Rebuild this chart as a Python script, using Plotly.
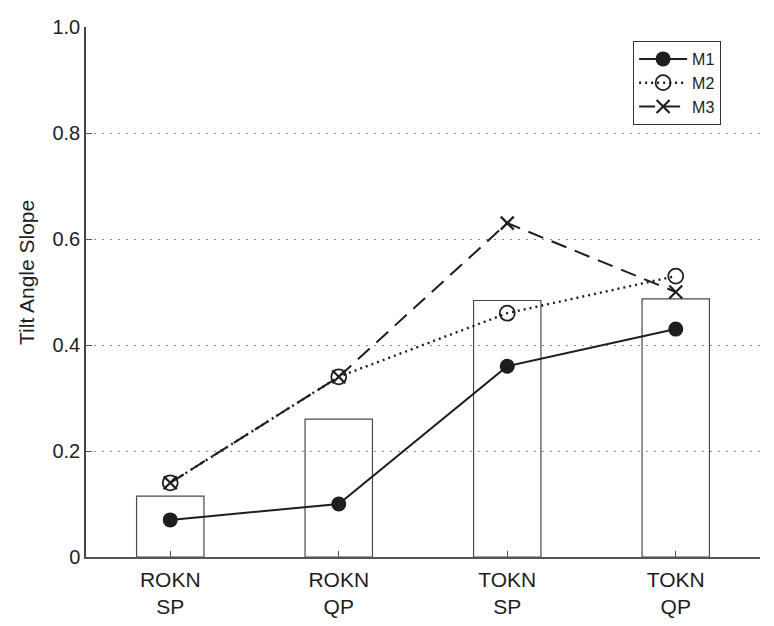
import plotly.graph_objects as go

categories = ["ROKN<br>SP", "ROKN<br>QP", "TOKN<br>SP", "TOKN<br>QP"]
bar_values = [0.115, 0.26, 0.484, 0.487]
m1 = [0.07, 0.10, 0.36, 0.43]
m2 = [0.14, 0.34, 0.46, 0.53]
m3 = [0.14, 0.34, 0.63, 0.50]
y_tickvals = [0, 0.2, 0.4, 0.6, 0.8, 1.0]
y_ticktext = ["0", "0.2", "0.4", "0.6", "0.8", "1.0"]
y_title = "Tilt Angle Slope"

xs = list(range(len(categories)))
ink = "#1e1e1e"
font = "Liberation Sans, Arial, sans-serif"

fig = go.Figure()
fig.add_trace(go.Bar(x=xs, y=bar_values, width=0.4, marker=dict(color="rgba(0,0,0,0)",
                     line=dict(color="#4a4a4a", width=1.2)), showlegend=False, hoverinfo="skip"))
fig.add_trace(go.Scatter(x=xs, y=m1, name="M1", mode="lines+markers",
                         line=dict(color=ink, width=2),
                         marker=dict(symbol="circle", size=15, color=ink)))
fig.add_trace(go.Scatter(x=xs, y=m2, name="M2", mode="lines+markers",
                         line=dict(color=ink, width=2.4, dash="2px,4px"),
                         marker=dict(symbol="circle-open", size=15, color=ink, line=dict(width=1.8))))
fig.add_trace(go.Scatter(x=xs, y=m3, name="M3", mode="lines+markers",
                         line=dict(color=ink, width=2, dash="16px,9px"),
                         marker=dict(symbol="x-thin", size=13, color=ink, line=dict(width=2.2, color=ink))))

# y-axis title placed like the reference (centred a bit above the plot middle)
fig.add_annotation(text=y_title, xref="paper", yref="paper", x=-0.0875, y=0.536,
                   xanchor="center", yanchor="middle", textangle=-90, showarrow=False,
                   font=dict(size=21, family=font, color=ink))

# page body has an 8px margin: compensate so the plot lands where the reference has it
fig.update_layout(
    width=766, height=618,
    margin=dict(l=78, r=14, t=19, b=69, autoexpand=False),
    plot_bgcolor="white", paper_bgcolor="white",
    font=dict(family=font, size=20, color=ink),
    barmode="overlay",
    legend=dict(x=0.942, y=0.974, xanchor="right", yanchor="top",
                bordercolor="#333333", borderwidth=1.2, bgcolor="white",
                font=dict(size=16, family=font), tracegroupgap=0,
                itemwidth=48, entrywidth=46),
    xaxis=dict(tickvals=xs, ticktext=categories, range=[-0.5, 3.5],
               showline=True, linecolor="#555555", linewidth=1.5,
               ticks="inside", ticklen=6, tickcolor="#555555",
               showgrid=False, zeroline=False, tickfont=dict(size=21),
               ticklabelstandoff=3, automargin=False),
    yaxis=dict(range=[0, 1.0], tickvals=y_tickvals, ticktext=y_ticktext,
               showline=True, linecolor="#444444", linewidth=1.5,
               ticks="inside", ticklen=6, tickcolor="#555555",
               showgrid=True, gridcolor="#8a8a8a", griddash="2px,6px", gridwidth=1,
               zeroline=False, tickfont=dict(size=20), automargin=False),
)

fig.write_html("out.html")
